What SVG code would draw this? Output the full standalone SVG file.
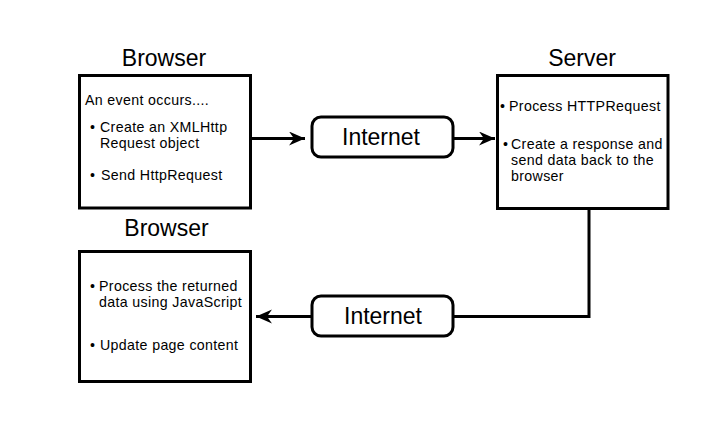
<svg xmlns="http://www.w3.org/2000/svg" width="709" height="425" viewBox="0 0 709 425">
<style>
.box{fill:#fff;stroke:#000;stroke-width:3}
.pill{fill:#fff;stroke:#000;stroke-width:3}
.title{font-family:"Liberation Sans",Arial,sans-serif;font-size:23px;fill:#000;text-anchor:middle}
.txt{font-family:"Liberation Sans",Arial,sans-serif;font-size:14.2px;letter-spacing:0.35px;fill:#000}
.conn{fill:none;stroke:#000;stroke-width:3}
</style>
<defs>
<marker id="arr" markerUnits="userSpaceOnUse" markerWidth="20" markerHeight="16" refX="16" refY="7" orient="auto">
<path d="M0,0 L16,7 L0,14 L5,7 Z" fill="#000"/>
</marker>
</defs>
<rect width="709" height="425" fill="#fff"/>
<g id="connectors">
<line class="conn" x1="251" y1="138.5" x2="305" y2="138.5" marker-end="url(#arr)"/>
<line class="conn" x1="453" y1="138.5" x2="495" y2="138.5" marker-end="url(#arr)"/>
<polyline class="conn" points="589,208 589,316.5 453,316.5"/>
<line class="conn" x1="312" y1="316.5" x2="256" y2="316.5" marker-end="url(#arr)"/>
</g>
<g id="browser1">
<text class="title" x="164" y="66">Browser</text>
<rect class="box" x="79.5" y="75.5" width="171" height="132.5"/>
<text class="txt" x="85" y="105">An event occurs....</text>
<text class="txt"><tspan x="90" y="131.5">•</tspan><tspan x="100" y="131.5">Create an XMLHttp</tspan><tspan x="100" y="147.5">Request object</tspan></text>
<text class="txt"><tspan x="90" y="180">•</tspan><tspan x="101" y="180">Send HttpRequest</tspan></text>
</g>
<g id="internet1">
<rect class="pill" x="312" y="117" width="141" height="40" rx="9"/>
<text class="title" x="381" y="145">Internet</text>
</g>
<g id="server">
<text class="title" x="582" y="66">Server</text>
<rect class="box" x="497.5" y="75.5" width="170.5" height="133"/>
<text class="txt"><tspan x="500" y="111">•</tspan><tspan x="509" y="111">Process HTTPRequest</tspan></text>
<text class="txt"><tspan x="503" y="149">•</tspan><tspan x="511" y="149">Create a response and</tspan><tspan x="511" y="165">send data back to the</tspan><tspan x="511" y="181">browser</tspan></text>
</g>
<g id="internet2">
<rect class="pill" x="312" y="296" width="141" height="40" rx="9"/>
<text class="title" x="383" y="324">Internet</text>
</g>
<g id="browser2">
<text class="title" x="166.5" y="236">Browser</text>
<rect class="box" x="79.5" y="251.5" width="171" height="130"/>
<text class="txt"><tspan x="90" y="290.5">•</tspan><tspan x="99" y="290.5">Process the returned</tspan><tspan x="99" y="306.5">data using JavaScript</tspan></text>
<text class="txt"><tspan x="90" y="350">•</tspan><tspan x="100" y="350">Update page content</tspan></text>
</g>
</svg>
